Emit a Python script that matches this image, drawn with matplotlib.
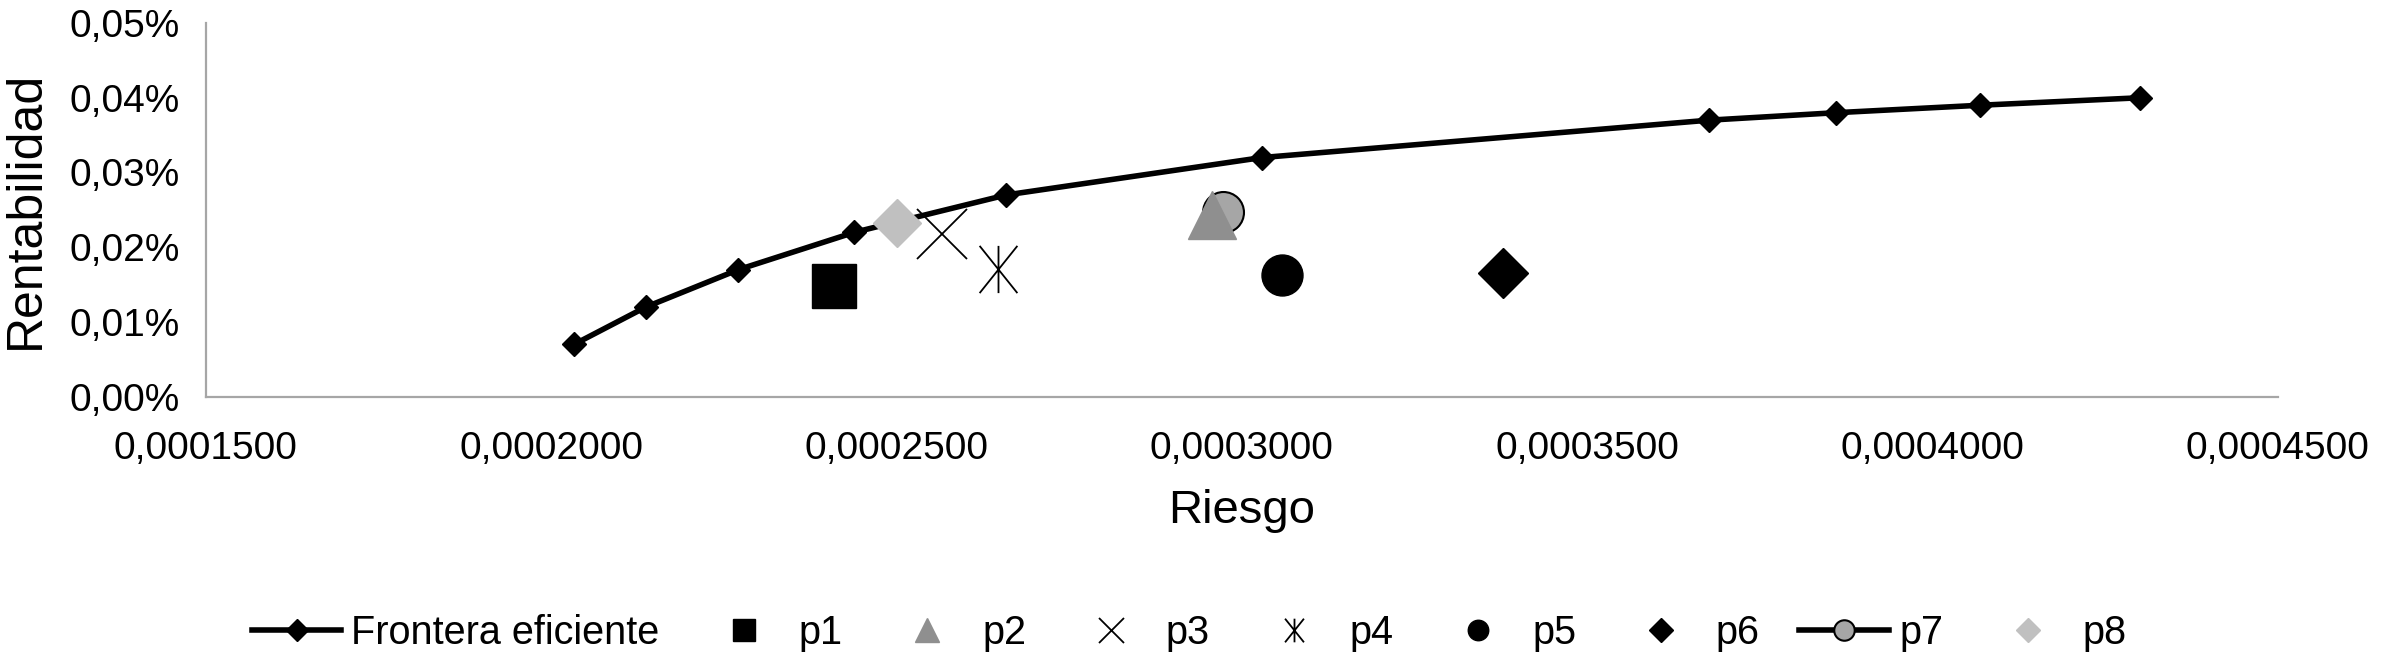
import numpy as np
import matplotlib
matplotlib.use("Agg")
import matplotlib.pyplot as plt
from matplotlib.path import Path
from matplotlib.ticker import FuncFormatter, MultipleLocator

# frontera eficiente (riesgo, rentabilidad)
riesgo_frontera = [0.0002033, 0.0002137, 0.0002271, 0.0002439, 0.0002659,
                   0.0003029, 0.0003676, 0.0003860, 0.0004069, 0.0004300]
rent_frontera = [0.00007, 0.00012, 0.00017, 0.00022, 0.00027,
                 0.00032, 0.00037, 0.00038, 0.00039, 0.00040]

# carteras individuales
carteras = ["p1", "p2", "p3", "p4", "p5", "p6", "p7", "p8"]
riesgo_carteras = [0.0002410, 0.0002956, 0.0002566, 0.0002647,
                   0.0003058, 0.0003378, 0.0002973, 0.0002500]
rent_carteras = [0.0001486, 0.0002432, 0.0002174, 0.0001705,
                 0.0001633, 0.0001652, 0.0002473, 0.0002320]

plt.rcParams['font.family'] = ['Liberation Sans', 'DejaVu Sans']

# asterisco estilo Excel: linea vertical + aspa
asterisk = Path([(0, -0.5), (0, 0.5), (-0.4, -0.5), (0.4, 0.5), (-0.4, 0.5), (0.4, -0.5)],
                [Path.MOVETO, Path.LINETO, Path.MOVETO, Path.LINETO, Path.MOVETO, Path.LINETO])

estilos = {
    "p1": dict(marker='s', ms=31, color='black', ls='none'),
    "p2": dict(marker='^', ms=35, color='#8f8f8f', ls='none', zorder=6),
    "p3": dict(marker='x', ms=36, color='black', mew=1.3, ls='none'),
    "p4": dict(marker=asterisk, ms=34, color='black', mew=1.3, ls='none'),
    "p5": dict(marker='o', ms=29.5, color='black', ls='none'),
    "p6": dict(marker='D', ms=25, color='black', ls='none'),
    "p7": dict(marker='o', ms=29.5, color='black', mfc='#a6a6a6', mec='black',
               mew=1.5, ls='-', lw=4, zorder=5),
    "p8": dict(marker='D', ms=24, color='#c0c0c0', ls='none', zorder=4),
}

fig = plt.figure(figsize=(23.83, 6.54), dpi=100)
ax = fig.add_axes([0.0864, 0.3934, 0.8695, 0.5714])

ax.plot(riesgo_frontera, rent_frontera, color='black', lw=4, marker='D', ms=12.5,
        label="Frontera eficiente", zorder=3)
for nombre, x, y in zip(carteras, riesgo_carteras, rent_carteras):
    ax.plot([x], [y], label=nombre, **estilos[nombre])

ax.set_xlim(0.00015, 0.00045)
ax.set_ylim(0, 0.0005)
ax.xaxis.set_major_locator(MultipleLocator(0.00005))
ax.yaxis.set_major_locator(MultipleLocator(0.0001))
ax.xaxis.set_major_formatter(FuncFormatter(lambda v, p: f"{v:.7f}".replace('.', ',')))
ax.yaxis.set_major_formatter(FuncFormatter(lambda v, p: f"{v*100:.2f}%".replace('.', ',')))
ax.tick_params(length=0, labelsize=28)
ax.tick_params(axis='x', pad=25)
ax.tick_params(axis='y', pad=19)

for s in ['top', 'right']:
    ax.spines[s].set_visible(False)
for s in ['left', 'bottom']:
    ax.spines[s].set_color('#a6a6a6')
    ax.spines[s].set_linewidth(1.6)

ax.set_xlabel("Riesgo", fontsize=34)
ax.set_ylabel("Rentabilidad", fontsize=36)
ax.xaxis.set_label_coords(0.5, -0.305)
ax.xaxis.label.set_va('center')
ax.yaxis.set_label_coords(-0.087, 0.5)
ax.yaxis.label.set_va('center')

leg = fig.legend(loc='center', bbox_to_anchor=(0.499, 0.032), ncol=9, frameon=False,
                 fontsize=28.5, handlelength=2.27, handletextpad=0.25, columnspacing=1.0,
                 markerscale=0.5)
for h in leg.legend_handles:
    if h.get_label() == "Frontera eficiente":
        h.set_markersize(11)

fig.savefig("out.png", dpi=100)
